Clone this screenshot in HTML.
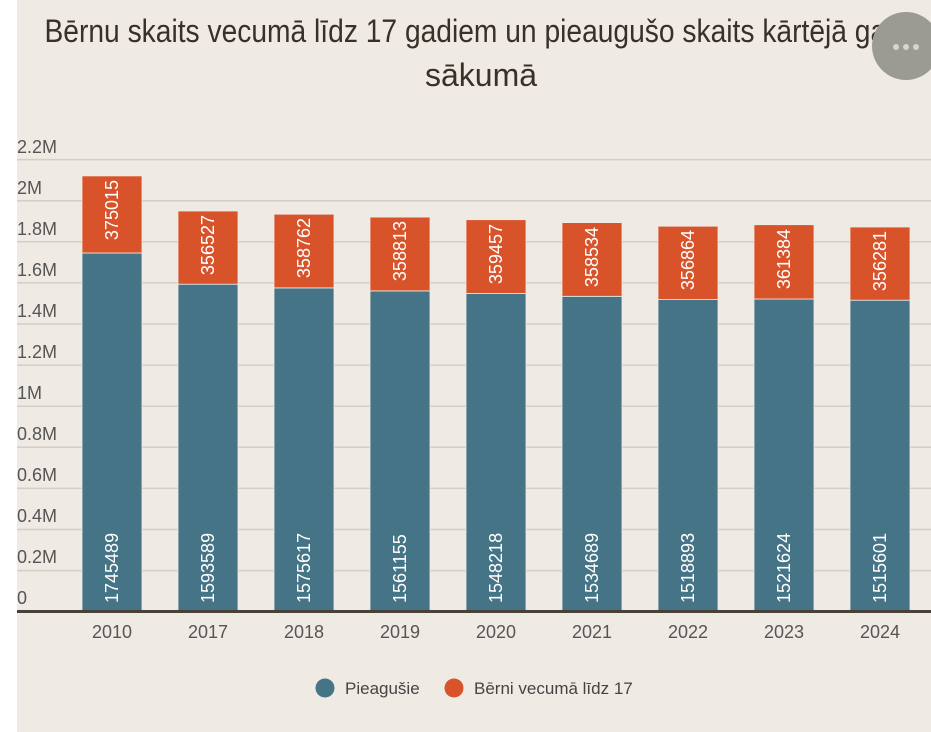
<!DOCTYPE html>
<html><head><meta charset="utf-8"><style>
html,body{margin:0;padding:0;background:#fff;}
svg{display:block;font-family:"Liberation Sans","DejaVu Sans",sans-serif;}
</style></head><body>
<svg width="931" height="732" viewBox="0 0 931 732" xmlns="http://www.w3.org/2000/svg">
<rect x="17" y="0" width="914" height="732" fill="#efebe4"/>
<text x="481" y="42" text-anchor="middle" font-size="32" fill="#3a302a" font-weight="300" textLength="873" lengthAdjust="spacingAndGlyphs">Bērnu skaits vecumā līdz 17 gadiem un pieaugušo skaits kārtējā gada</text>
<text x="481" y="86" text-anchor="middle" font-size="32" fill="#3a302a" font-weight="300">sākumā</text>
<circle cx="906" cy="46" r="34" fill="#9b9b94"/>
<circle cx="896" cy="47" r="3" fill="#d5d5d0"/><circle cx="906" cy="47" r="3" fill="#d5d5d0"/><circle cx="916" cy="47" r="3" fill="#d5d5d0"/>
<g stroke="#d3cec6" stroke-width="1.5">
<line x1="17" x2="931" y1="159.6" y2="159.6"/><line x1="17" x2="931" y1="200.7" y2="200.7"/><line x1="17" x2="931" y1="241.8" y2="241.8"/><line x1="17" x2="931" y1="282.9" y2="282.9"/><line x1="17" x2="931" y1="324" y2="324"/><line x1="17" x2="931" y1="365.1" y2="365.1"/><line x1="17" x2="931" y1="406.2" y2="406.2"/><line x1="17" x2="931" y1="447.3" y2="447.3"/><line x1="17" x2="931" y1="488.4" y2="488.4"/><line x1="17" x2="931" y1="529.5" y2="529.5"/><line x1="17" x2="931" y1="570.6" y2="570.6"/>
</g>
<g font-size="18" fill="#555">
<text x="17" y="153">2.2M</text><text x="17" y="194">2M</text><text x="17" y="235">1.8M</text><text x="17" y="276">1.6M</text><text x="17" y="317">1.4M</text><text x="17" y="358">1.2M</text><text x="17" y="399">1M</text><text x="17" y="440">0.8M</text><text x="17" y="481">0.6M</text><text x="17" y="522">0.4M</text><text x="17" y="563">0.2M</text><text x="17" y="604">0</text>
</g>
<g stroke="#efebe4" stroke-width="0.8">
<rect x="82" y="253" width="60" height="358.7" fill="#467487"/><rect x="82" y="175.9" width="60" height="77.1" fill="#d9532a"/>
<rect x="178" y="284.2" width="60" height="327.5" fill="#467487"/><rect x="178" y="211" width="60" height="73.2" fill="#d9532a"/>
<rect x="274" y="287.9" width="60" height="323.8" fill="#467487"/><rect x="274" y="214.2" width="60" height="73.7" fill="#d9532a"/>
<rect x="370" y="290.9" width="60" height="320.8" fill="#467487"/><rect x="370" y="217.1" width="60" height="73.8" fill="#d9532a"/>
<rect x="466" y="293.5" width="60" height="318.2" fill="#467487"/><rect x="466" y="219.7" width="60" height="73.8" fill="#d9532a"/>
<rect x="562" y="296.3" width="60" height="315.4" fill="#467487"/><rect x="562" y="222.6" width="60" height="73.7" fill="#d9532a"/>
<rect x="658" y="299.6" width="60" height="312.1" fill="#467487"/><rect x="658" y="226.2" width="60" height="73.4" fill="#d9532a"/>
<rect x="754" y="299" width="60" height="312.7" fill="#467487"/><rect x="754" y="224.7" width="60" height="74.3" fill="#d9532a"/>
<rect x="850" y="300.2" width="60" height="311.5" fill="#467487"/><rect x="850" y="227" width="60" height="73.2" fill="#d9532a"/>
</g>
<g font-size="18" fill="#fff">
<text transform="translate(118,603) rotate(-90)">1745489</text><text transform="translate(118,180) rotate(-90)" text-anchor="end">375015</text>
<text transform="translate(214,603) rotate(-90)">1593589</text><text transform="translate(214,215) rotate(-90)" text-anchor="end">356527</text>
<text transform="translate(310,603) rotate(-90)">1575617</text><text transform="translate(310,218) rotate(-90)" text-anchor="end">358762</text>
<text transform="translate(406,603) rotate(-90)">1561155</text><text transform="translate(406,221) rotate(-90)" text-anchor="end">358813</text>
<text transform="translate(502,603) rotate(-90)">1548218</text><text transform="translate(502,224) rotate(-90)" text-anchor="end">359457</text>
<text transform="translate(598,603) rotate(-90)">1534689</text><text transform="translate(598,227) rotate(-90)" text-anchor="end">358534</text>
<text transform="translate(694,603) rotate(-90)">1518893</text><text transform="translate(694,230) rotate(-90)" text-anchor="end">356864</text>
<text transform="translate(790,603) rotate(-90)">1521624</text><text transform="translate(790,229) rotate(-90)" text-anchor="end">361384</text>
<text transform="translate(886,603) rotate(-90)">1515601</text><text transform="translate(886,231) rotate(-90)" text-anchor="end">356281</text>
</g>
<line x1="17" x2="931" y1="611.5" y2="611.5" stroke="#4a403a" stroke-width="3"/>
<g font-size="18" fill="#555" text-anchor="middle">
<text x="112" y="638">2010</text><text x="208" y="638">2017</text><text x="304" y="638">2018</text><text x="400" y="638">2019</text><text x="496" y="638">2020</text><text x="592" y="638">2021</text><text x="688" y="638">2022</text><text x="784" y="638">2023</text><text x="880" y="638">2024</text>
</g>
<circle cx="325" cy="688" r="9.5" fill="#467487"/>
<text x="345" y="694" font-size="17" fill="#444">Pieagušie</text>
<circle cx="454" cy="688" r="9.5" fill="#d9532a"/>
<text x="474" y="694" font-size="17" fill="#444">Bērni vecumā līdz 17</text>
</svg>
</body></html>
